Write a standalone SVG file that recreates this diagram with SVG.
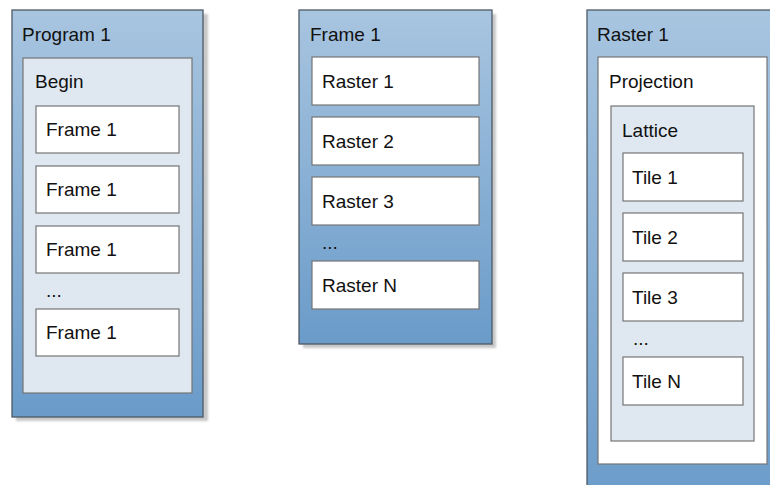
<svg xmlns="http://www.w3.org/2000/svg" width="770" height="485" viewBox="0 0 770 485">
<defs>
<linearGradient id="blue" x1="0" y1="0" x2="0" y2="1">
<stop offset="0" stop-color="#a8c5e0"/>
<stop offset="1" stop-color="#6a9bc9"/>
</linearGradient>
<filter id="blur" x="-10%" y="-10%" width="120%" height="120%"><feGaussianBlur stdDeviation="1"/></filter>
</defs>
<style>
.shadow{fill:#c8c8c8;filter:url(#blur);}
.outer{fill:url(#blue);stroke:#4e5965;stroke-width:1.3;}
.pale{fill:#dfe8f1;stroke:#757575;stroke-width:1.2;}
.white{fill:#ffffff;stroke:#757575;stroke-width:1.2;}
text{font-family:"Liberation Sans",Arial,sans-serif;font-size:19px;fill:#111111;}
</style>
<g id="program1">
<rect class="shadow" x="16" y="14" width="192" height="407"/>
<rect class="outer" x="12" y="10" width="191" height="407"/>
<text x="22" y="41">Program 1</text>
<g id="begin">
<rect class="pale" x="23" y="58" width="169" height="335"/>
<text x="35" y="88">Begin</text>
</g>
<g id="p-frame1"><rect class="white" x="36" y="106" width="143" height="47"/><text x="46" y="136">Frame 1</text></g>
<g id="p-frame2"><rect class="white" x="36" y="166" width="143" height="47"/><text x="46" y="196">Frame 1</text></g>
<g id="p-frame3"><rect class="white" x="36" y="226" width="143" height="47"/><text x="46" y="256">Frame 1</text></g>
<text x="46" y="297">...</text>
<g id="p-frame4"><rect class="white" x="36" y="309" width="143" height="47"/><text x="46" y="339">Frame 1</text></g>
</g>
<g id="frame1">
<rect class="shadow" x="303" y="14" width="193" height="334"/>
<rect class="outer" x="299" y="10" width="193" height="334"/>
<text x="310" y="41">Frame 1</text>
<g id="raster1"><rect class="white" x="312" y="57" width="167" height="48"/><text x="322" y="88">Raster 1</text></g>
<g id="raster2"><rect class="white" x="312" y="117" width="167" height="48"/><text x="322" y="148">Raster 2</text></g>
<g id="raster3"><rect class="white" x="312" y="177" width="167" height="48"/><text x="322" y="208">Raster 3</text></g>
<text x="322" y="249">...</text>
<g id="rasterN"><rect class="white" x="312" y="261" width="167" height="48"/><text x="322" y="292">Raster N</text></g>
</g>
<g id="raster1-detail">
<rect class="shadow" x="591" y="14" width="200" height="500"/>
<rect class="outer" x="587" y="10" width="200" height="500"/>
<text x="597" y="41">Raster 1</text>
<g id="projection">
<rect class="white" x="598" y="57" width="169" height="407"/>
<text x="609" y="88">Projection</text>
</g>
<g id="lattice">
<rect class="pale" x="611" y="106" width="143" height="335"/>
<text x="622" y="137">Lattice</text>
</g>
<g id="tile1"><rect class="white" x="623" y="153" width="120" height="48"/><text x="632" y="184">Tile 1</text></g>
<g id="tile2"><rect class="white" x="623" y="213" width="120" height="48"/><text x="632" y="244">Tile 2</text></g>
<g id="tile3"><rect class="white" x="623" y="273" width="120" height="48"/><text x="632" y="304">Tile 3</text></g>
<text x="633" y="345">...</text>
<g id="tileN"><rect class="white" x="623" y="357" width="120" height="48"/><text x="632" y="388">Tile N</text></g>
</g>
<g id="connectors"/>
</svg>
